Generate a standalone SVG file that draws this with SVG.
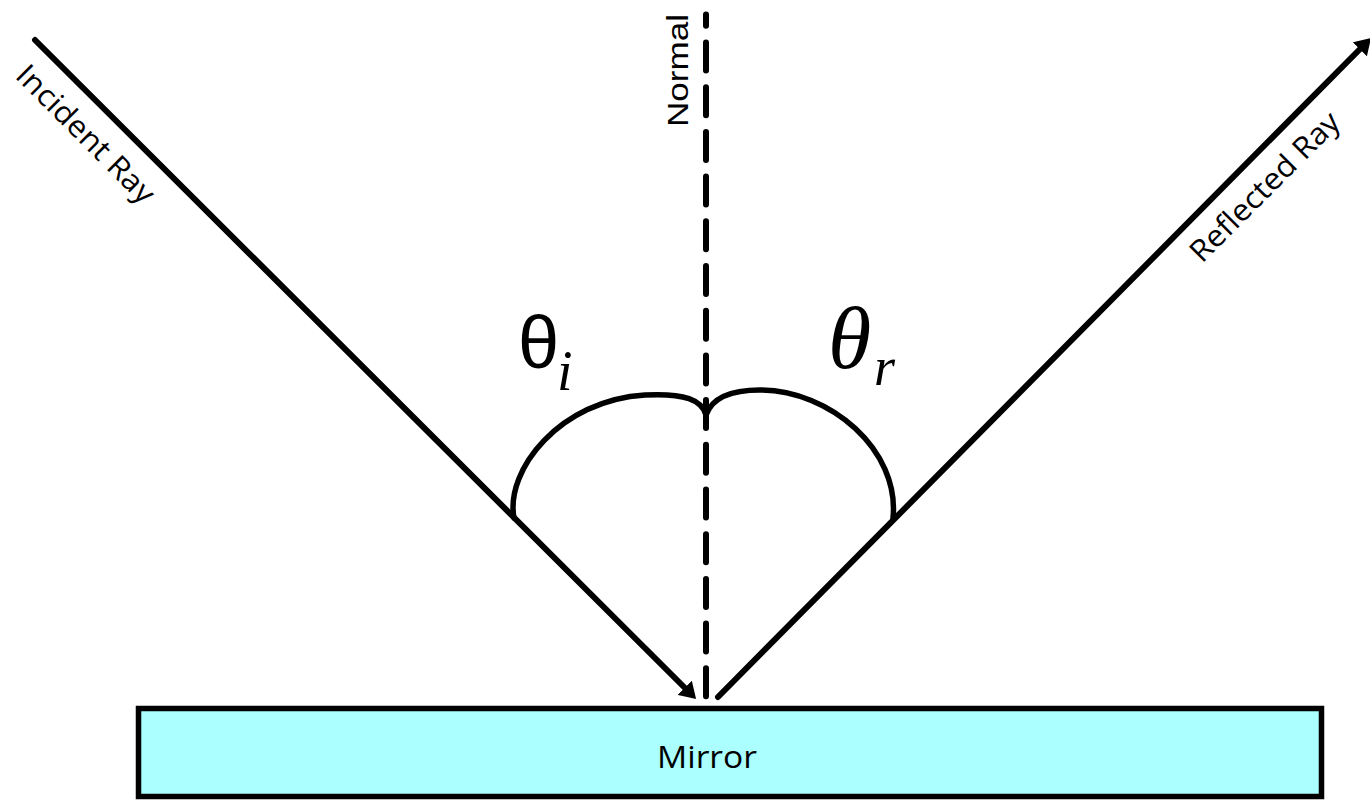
<svg xmlns="http://www.w3.org/2000/svg" width="1370" height="801" viewBox="0 0 1370 801">
<style>
.ray{stroke:#000;stroke-width:6;fill:none;stroke-linecap:round}
.arc{stroke:#000;stroke-width:5.5;fill:none;stroke-linecap:round;stroke-linejoin:round}
.lbl{font-family:"Open Sans","Noto Sans",sans-serif;fill:#000}
.ser{font-family:"Liberation Serif","DejaVu Serif","Times New Roman",serif;font-style:italic;fill:#000}
</style>
<defs>
<marker id="ah" markerUnits="userSpaceOnUse" viewBox="0 0 16 20" refX="6" refY="10" markerWidth="16" markerHeight="20" orient="auto">
<path d="M0,0 L16,10 L0,20 z" fill="#000"/>
</marker>
</defs>
<rect width="1370" height="801" fill="#fff"/>
<g id="mirror">
<rect x="138.5" y="708.5" width="1183" height="88" fill="#abffff" stroke="#000" stroke-width="5.5"/>
<text class="lbl" x="707" y="768" font-size="31" text-anchor="middle" textLength="100" lengthAdjust="spacingAndGlyphs">Mirror</text>
</g>
<g id="connectors">
<line id="incident-ray" class="ray" x1="35" y1="40" x2="689" y2="692" marker-end="url(#ah)"/>
<line id="reflected-ray" class="ray" x1="718" y1="697" x2="1364" y2="45" marker-end="url(#ah)"/>
<line id="normal-line" x1="706" y1="14.5" x2="706" y2="700" stroke="#000" stroke-width="6" stroke-linecap="round" stroke-dasharray="28 16.7" stroke-dashoffset="16.7"/>
<path id="arc-i" class="arc" d="M514,518 C505,470 560,400 645,395 C685,393 702,400 706,415"/>
<path id="arc-r" class="arc" d="M706,415 C712,398 730,390 760,390 C830,390 900,450 893,518"/>
</g>
<g id="label-incident">
<text class="lbl" font-size="30" transform="translate(14,77) rotate(45)" textLength="182" lengthAdjust="spacingAndGlyphs">Incident Ray</text>
</g>
<g id="label-reflected">
<text class="lbl" font-size="30" transform="translate(1202,264) rotate(-45)" textLength="198" lengthAdjust="spacingAndGlyphs">Reflected Ray</text>
</g>
<g id="label-normal">
<text font-family="'Liberation Sans', Arial, sans-serif" font-size="30" transform="translate(688,127) rotate(-90)" textLength="113" lengthAdjust="spacingAndGlyphs">Normal</text>
</g>
<g id="theta-i">
<text font-family="'Liberation Sans', Arial, sans-serif" font-size="74" x="518" y="368">θ</text>
<text class="ser" font-size="56" x="557" y="390">i</text>
</g>
<g id="theta-r">
<text class="ser" font-size="88" x="828" y="368">θ</text>
<text class="ser" font-size="54" x="874" y="385">r</text>
</g>
</svg>
